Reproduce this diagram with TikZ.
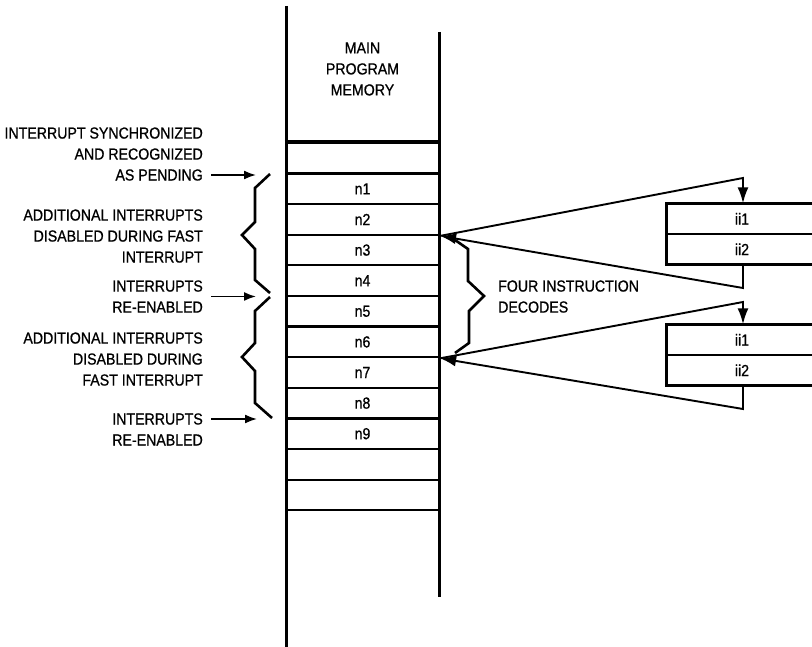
\documentclass[tikz,border=0pt]{standalone}
\usepackage{fontspec}
\setmainfont{Liberation Sans}[FakeStretch=0.885,FakeBold=0.8]
\usetikzlibrary{arrows.meta,calc}
\begin{document}
\begin{tikzpicture}[x=1pt,y=-1pt,
  txt/.style={font=\fontsize{16}{21}\selectfont, inner sep=0pt},
  cell/.style={txt, draw, line width=2.2pt, minimum width=153pt, minimum height=30.6pt, anchor=center},
  ibox/.style={txt, minimum width=145pt, minimum height=30.5pt},
  col/.style={line width=3pt},
  boxln/.style={line width=2.8pt, line join=miter},
  midln/.style={line width=2.2pt},
  brace/.style={line width=2.6pt, line join=miter},
  smallarr/.style={line width=1.7pt, -{Latex[length=12pt,width=9pt]}},
  bigarr/.style={line width=1.9pt, line join=miter, -{Latex[length=16pt,width=11pt]}},
  lab/.style={txt, align=right, anchor=north east},
]
\useasboundingbox (0,0) rectangle (812,647);

% memory cells
\node[cell] (c0) at (362.5,158.3) {};
\node[cell] (n1) at (362.5,188.9) {n1};
\node[cell] (n2) at (362.5,219.5) {n2};
\node[cell] (n3) at (362.5,250.1) {n3};
\node[cell] (n4) at (362.5,280.7) {n4};
\node[cell] (n5) at (362.5,311.3) {n5};
\node[cell] (n6) at (362.5,341.9) {n6};
\node[cell] (n7) at (362.5,372.5) {n7};
\node[cell] (n8) at (362.5,403.1) {n8};
\node[cell] (n9) at (362.5,433.7) {n9};
\node[cell] (c10) at (362.5,464.3) {};
\node[cell] (c11) at (362.5,494.9) {};
\draw[line width=3pt] (c0.north west) -- (c0.north east);

% column sides
\draw[col] (286,6) -- (286,647);
\draw[col] (439,32) -- (439,597);

\node[txt, align=center] (title) at (362.5,69) {MAIN\\PROGRAM\\MEMORY};

% left labels
\node[lab] (l1) at (203,127.2) {INTERRUPT SYNCHRONIZED\\AND RECOGNIZED};
\node[txt, anchor=east] (l1b) at (203,175) {AS PENDING};
\node[lab] (l2) at (203,209.2) {ADDITIONAL INTERRUPTS\\DISABLED DURING FAST\\INTERRUPT};
\node[lab] (l3) at (203,280.2) {INTERRUPTS\\RE-ENABLED};
\node[lab] (l4) at (203,332.2) {ADDITIONAL INTERRUPTS\\DISABLED DURING\\FAST INTERRUPT};
\node[txt, anchor=east] (l5) at (203,419) {INTERRUPTS};
\node[txt, anchor=east] (l5b) at (203,440) {RE-ENABLED};

\coordinate (p1) at (256,175);
\coordinate (p2) at (256,295.5);
\coordinate (p3) at (257,419);
\draw[smallarr, shorten <=8pt] (l1b.east) -- (p1);
\draw[smallarr, shorten <=8pt] (l3.east) -- (l3.east -| p2);
\draw[smallarr, shorten <=8pt] (l5.east) -- (p3);

% left braces
\draw[brace] (270,174) -- (255,188) -- (255,222) -- (242,235) -- (255,249) -- (255,280) -- (270,293);
\draw[brace] (270,297) -- (255,311) -- (255,343) -- (242,357) -- (255,371) -- (255,403) -- (272,418);

% right brace and label
\draw[brace] (455,240) -- (468,249) -- (468,281) -- (484,296) -- (469,311) -- (469,343) -- (455,353);
\node[txt, align=left, anchor=north west] (four) at (498,280.2) {FOUR INSTRUCTION\\DECODES};

% interrupt routine boxes
\coordinate (E) at (812,0);
\node[ibox] (ii1) at (739.5,218.75) {\hspace*{5pt}ii1};
\node[ibox] (ii2) at (739.5,249.25) {\hspace*{5pt}ii2};
\node[ibox] (ii3) at (739.5,339.75) {\hspace*{5pt}ii1};
\node[ibox] (ii4) at (739.5,370.25) {\hspace*{5pt}ii2};
\draw[boxln] (ii1.north west -| E) -- (ii1.north west) -- (ii2.south west) -- (ii2.south west -| E);
\draw[midln] (ii1.south west) -- (ii1.south west -| E);
\draw[boxln] (ii3.north west -| E) -- (ii3.north west) -- (ii4.south west) -- (ii4.south west -| E);
\draw[midln] (ii3.south west) -- (ii3.south west -| E);

% flow arrows
\coordinate (t1) at (743,178);
\coordinate (b1) at (743,288);
\coordinate (t2) at (743,302);
\coordinate (b2) at (743,409);
\draw[bigarr] (n2.south east) -- (t1) -- (ii1.north -| t1);
\draw[bigarr] (ii2.south -| b1) -- (b1) -- (n2.south east);
\draw[bigarr] (n6.south east) -- (t2) -- (ii3.north -| t2);
\draw[bigarr] (ii4.south -| b2) -- (b2) -- (n6.south east);
\end{tikzpicture}
\end{document}
